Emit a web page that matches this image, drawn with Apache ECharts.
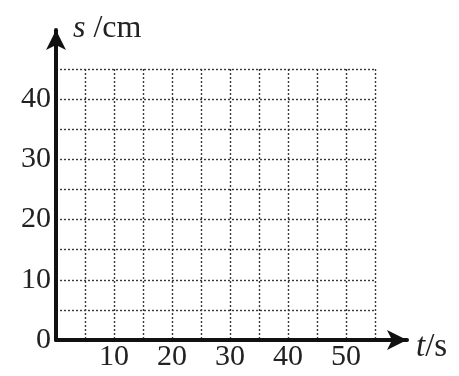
<!DOCTYPE html>
<html>
<head>
<meta charset="utf-8">
<script src="https://cdn.jsdelivr.net/npm/echarts@6/dist/echarts.min.js"></script>
<style>html,body{margin:0;padding:0;background:#fff}#c{width:459px;height:376px}</style>
</head>
<body>
<div id="c"></div>
<script>
// Axis ranges and labels
const xMax = 55, xStep = 5;
const yMax = 45, yStep = 5;
const xTickLabels = [10, 20, 30, 40, 50];
const yTickLabels = [0, 10, 20, 30, 40];
const seriesData = []; // empty grid, no plotted data

const FONT = 'Liberation Serif';
const chart = echarts.init(document.getElementById('c'), null, {renderer: 'canvas'});
const gridLine = {show: true, lineStyle: {color: '#3a3a3a', width: 1.4, type: [2, 2]}};

chart.setOption({
  animation: false,
  backgroundColor: '#fff',
  grid: [
    {left: 56, right: 84, top: 69, bottom: 36, containLabel: false},
    {left: 56, right: 52, top: 30, bottom: 36, containLabel: false}
  ],
  xAxis: [
    {
      type: 'value', gridIndex: 0, min: 0, max: xMax, interval: xStep,
      axisLine: {show: false}, axisTick: {show: false},
      splitLine: gridLine,
      axisLabel: {
        margin: 2, color: '#222', fontFamily: FONT, fontSize: 30,
        formatter: v => xTickLabels.includes(v) ? String(v) : ''
      }
    },
    {
      type: 'value', gridIndex: 1, min: 0, max: 1,
      axisLine: {show: true, onZero: false, symbol: ['none', 'arrow'], symbolSize: [15, 20],
        lineStyle: {color: '#111', width: 4}},
      axisTick: {show: false}, axisLabel: {show: false}, splitLine: {show: false},
      name: '{i|t}{n|/s}', nameLocation: 'end', nameGap: 9,
      nameTextStyle: {
        verticalAlign: 'top', padding: [-9, 0, 0, 0],
        rich: {
          i: {fontFamily: FONT, fontStyle: 'italic', fontSize: 33, color: '#222'},
          n: {fontFamily: FONT, fontSize: 33, color: '#222'}
        }
      }
    }
  ],
  yAxis: [
    {
      type: 'value', gridIndex: 0, min: 0, max: yMax, interval: yStep,
      axisLine: {show: false}, axisTick: {show: false},
      splitLine: gridLine,
      axisLabel: {
        margin: 5, color: '#222', fontFamily: FONT, fontSize: 30,
        padding: [0, 0, 6, 0],
        formatter: v => yTickLabels.includes(v) ? String(v) : ''
      }
    },
    {
      type: 'value', gridIndex: 1, min: 0, max: 1,
      axisLine: {show: true, onZero: false, symbol: ['none', 'arrow'], symbolSize: [15, 20],
        lineStyle: {color: '#111', width: 4}},
      axisTick: {show: false}, axisLabel: {show: false}, splitLine: {show: false},
      name: '{i|s}{n| /cm}', nameLocation: 'end', nameGap: 0,
      nameTextStyle: {
        align: 'left', verticalAlign: 'middle', padding: [0, 0, 2, 17],
        rich: {
          i: {fontFamily: FONT, fontStyle: 'italic', fontSize: 32, color: '#222'},
          n: {fontFamily: FONT, fontSize: 32, color: '#222'}
        }
      }
    }
  ],
  series: [
    {type: 'line', xAxisIndex: 0, yAxisIndex: 0, data: seriesData}
  ]
});
</script>
</body>
</html>
